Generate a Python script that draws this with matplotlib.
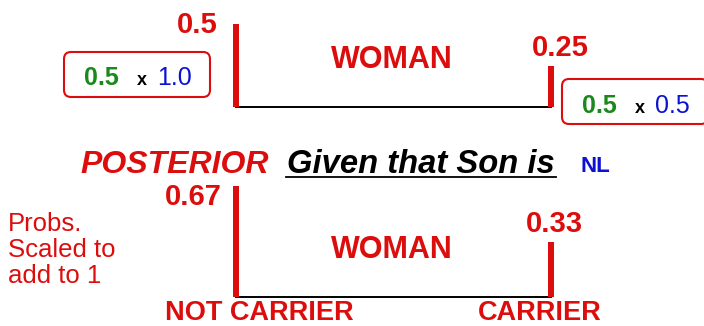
import numpy as np
import matplotlib
matplotlib.use("Agg")
import matplotlib.pyplot as plt
from matplotlib.patches import FancyBboxPatch

plt.rcParams['font.family'] = ['Liberation Sans', 'DejaVu Sans']

# data
categories = ["NOT CARRIER", "CARRIER"]
prior = [0.5, 0.5]
likelihood = [1.0, 0.5]
joint = [0.5, 0.25]
posterior = [0.67, 0.33]
joint_labels = ["0.5", "0.25"]
post_labels = ["0.67", "0.33"]
prior_labels = ["0.5", "0.5"]
like_labels = ["1.0", "0.5"]
group_name = "WOMAN"
son_state = "NL"

RED = '#dc0d0d'
GREEN = '#19891c'
BLUE = '#0c12d4'

W, H = 704, 326
X0, XSTEP = 236, 315      # pixel x of category 0, pixels per category
YSCALE = 166              # pixels per unit of probability


def panel_axes(fig, base):
    # transparent axes over the whole figure, baseline at pixel row `base`
    ax = fig.add_axes([0, 0, 1, 1])
    ax.set_xlim(-X0 / XSTEP, (W - X0) / XSTEP)
    ax.set_ylim((base - H) / YSCALE, base / YSCALE)
    ax.axis('off')
    ax.patch.set_alpha(0)
    return ax


def draw_panel(ax, values, labels, offsets):
    x = np.arange(len(values))
    ax.bar(x, values, width=0.019, color=RED, linewidth=0, zorder=3)
    ax.plot([x[0], x[-1]], [0, 0], color='black', lw=1.4, zorder=2)
    for xi, v, lab, (dx, dy, ha) in zip(x, values, labels, offsets):
        ax.annotate(lab, (xi, v), xytext=(dx, dy), textcoords='offset pixels',
                    ha=ha, va='baseline', fontsize=21, fontweight='bold',
                    color=RED)
    ax.annotate(group_name, (0.5, 0), xytext=(-2, 39), textcoords='offset pixels',
                ha='center', va='baseline', fontsize=22, fontweight='bold',
                color=RED)


fig = plt.figure(figsize=(W / 100, H / 100), dpi=100)

# layout axes in pixel coordinates for boxes and headings
lay = fig.add_axes([0, 0, 1, 1])
lay.set_xlim(0, W)
lay.set_ylim(H, 0)
lay.axis('off')

top = panel_axes(fig, 107)
draw_panel(top, joint, joint_labels, [(-18, -9, 'right'), (9, 10, 'center')])

bot = panel_axes(fig, 297)
draw_panel(bot, posterior, post_labels, [(-14, -19, 'right'), (3, 10, 'center')])
for xi, (cat, dx) in enumerate(zip(categories, [23, -11])):
    bot.annotate(cat, (xi, 0), xytext=(dx, -23), textcoords='offset pixels',
                 ha='center', va='baseline', fontsize=19.5, fontweight='bold',
                 color=RED)

# prior x likelihood boxes
boxes = [(64, 52, 85), (562, 79, 113)]   # left, top, text baseline
for (bx, by, tb), p, l in zip(boxes, prior_labels, like_labels):
    lay.add_patch(FancyBboxPatch((bx, by), 146, 45,
                                 boxstyle="round,pad=0,rounding_size=7",
                                 fc='white', ec=RED, lw=1.5))
    lay.text(bx + 20, tb, p, color=GREEN, fontsize=18, fontweight='bold',
             ha='left', va='baseline')
    lay.text(bx + 73, tb, "x", color='black', fontsize=13, fontweight='bold',
             ha='left', va='baseline')
    lay.text(bx + 93, tb, l, color=BLUE, fontsize=18,
             ha='left', va='baseline')

# heading
lay.text(80, 173, "POSTERIOR", color=RED, fontsize=23, fontweight='bold',
         fontstyle='italic', ha='left', va='baseline')
lay.text(287, 173, "Given that Son is", color='black', fontsize=23.6,
         fontweight='bold', fontstyle='italic', ha='left', va='baseline')
lay.plot([286, 556], [177, 177], color='black', lw=1.3)
lay.text(580, 172, son_state, color=BLUE, fontsize=16, fontweight='bold',
         ha='left', va='baseline')

lay.text(8, 212, "Probs.\nScaled to\nadd to 1", color=RED, fontsize=18.5,
         ha='left', va='top', linespacing=1.1)

fig.savefig("out.png", dpi=100)
